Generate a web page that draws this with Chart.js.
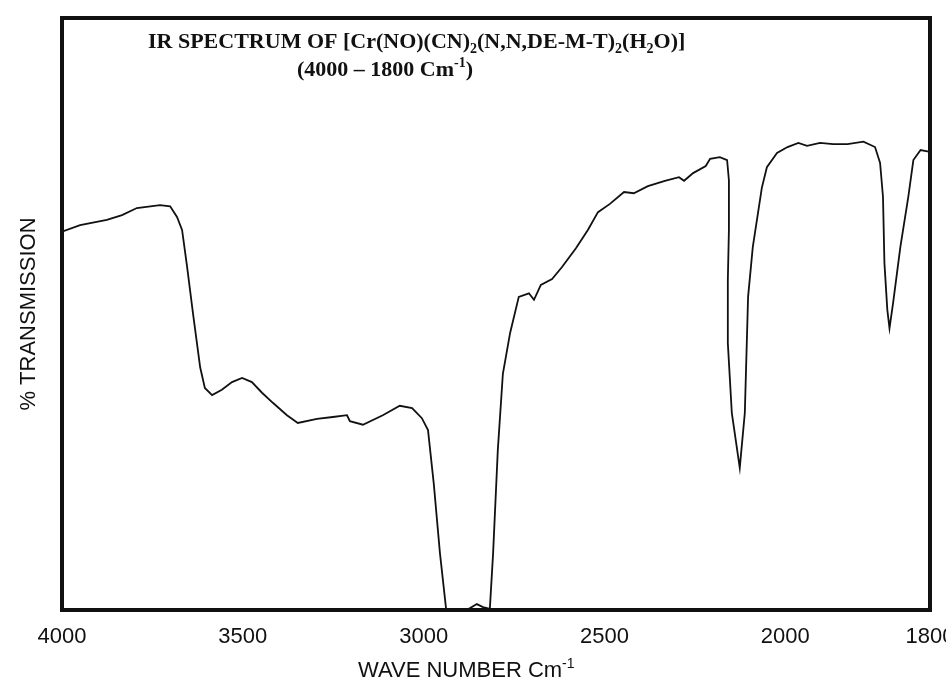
<!DOCTYPE html>
<html>
<head>
<meta charset="utf-8">
<script src="https://cdn.jsdelivr.net/npm/chart.js@4.4.1/dist/chart.umd.min.js"></script>
<style>
  html, body { margin: 0; padding: 0; background: #fff; }
  #wrap { width: 946px; height: 691px; position: relative; }
</style>
</head>
<body>
<div id="wrap"><canvas id="irChart"></canvas></div>
<script>
// wave numbers (cm-1), high to low
const waveNumbers = [
  4000, 3950, 3876, 3834, 3793, 3729, 3701, 3682, 3668, 3654, 3638, 3618, 3605,
  3585, 3558, 3530, 3502, 3475, 3447, 3417, 3378, 3348, 3295, 3251, 3212, 3204,
  3168, 3113, 3066, 3032, 3005, 2988, 2972, 2955, 2938, 2875, 2853, 2836, 2817,
  2808, 2795, 2781, 2761, 2737, 2709, 2695, 2676, 2645, 2618, 2579, 2546, 2518,
  2485, 2446, 2419, 2380, 2333, 2294, 2280, 2255, 2220, 2208, 2181, 2161, 2156,
  2156, 2159, 2159, 2148, 2126, 2112, 2103, 2090, 2065, 2051, 2023, 1997, 1982,
  1970, 1952, 1934, 1914, 1892, 1876, 1869, 1865, 1863, 1859, 1856, 1851, 1841,
  1830, 1823, 1813, 1800
];
// % transmission at each wave number
const transmission = [
  63.9, 65.0, 65.9, 66.7, 67.9, 68.4, 68.2, 66.4, 64.2, 57.9, 50.2, 41.0, 37.5,
  36.3, 37.2, 38.5, 39.2, 38.5, 36.7, 35.0, 32.9, 31.6, 32.3, 32.6, 32.9, 31.9,
  31.3, 32.9, 34.5, 34.1, 32.4, 30.4, 21.3, 9.6, 0.2, 0.2, 1.0, 0.5, 0.2,
  9.6, 27.0, 39.9, 46.8, 52.9, 53.5, 52.4, 54.9, 55.9, 57.9, 61.1, 64.2, 67.2,
  68.6, 70.6, 70.4, 71.6, 72.5, 73.1, 72.5, 73.8, 75.0, 76.2, 76.5, 76.0, 72.6,
  64.2, 55.7, 45.1, 33.3, 24.0, 33.3, 52.9, 61.3, 71.3, 74.8, 77.2, 78.2, 78.9,
  78.4, 78.9, 78.7, 78.7, 79.1, 78.2, 75.5, 69.8, 58.6, 50.7, 47.6, 51.9, 61.3,
  69.8, 76.0, 77.7, 77.4
];
const xTicks = [4000, 3500, 3000, 2500, 2000, 1800];

// IR chart paper: scale doubles below 2000 cm-1
const BREAK = 2000, HI = 4000, LO = 1800, EXPAND = 2;
const SPAN = (HI - BREAK) + (BREAK - LO) * EXPAND;

class IrScale extends Chart.LinearScale {
  getPixelForValue(v) {
    const u = v >= BREAK ? (HI - v) : (HI - BREAK) + (BREAK - v) * EXPAND;
    return this.left + (u / SPAN) * this.width;
  }
  getValueForPixel(px) {
    const u = (px - this.left) / this.width * SPAN;
    return u <= HI - BREAK ? HI - u : BREAK - (u - (HI - BREAK)) / EXPAND;
  }
}
IrScale.id = 'irwave';
IrScale.defaults = Chart.LinearScale.defaults;
Chart.register(IrScale);

function drawRich(ctx, parts, x, y, size, family, weight) {
  // parts: [text, 'n' | 'sub' | 'sup']
  let cx = x;
  parts.forEach(([t, kind]) => {
    const s = kind === 'n' ? size : Math.round(size * 0.65);
    const dy = kind === 'sub' ? size * 0.22 : kind === 'sup' ? -size * 0.4 : 0;
    ctx.font = weight + ' ' + s + 'px ' + family;
    ctx.fillText(t, cx, y + dy);
    cx += ctx.measureText(t).width;
  });
}

const paperPlugin = {
  id: 'paper',
  afterDraw(chart) {
    const ctx = chart.ctx;
    const a = chart.chartArea;
    ctx.save();
    ctx.strokeStyle = '#111';
    ctx.lineWidth = 4;
    ctx.strokeRect(a.left, a.top, a.right - a.left, a.bottom - a.top);

    ctx.fillStyle = '#111';
    ctx.textBaseline = 'alphabetic';
    ctx.textAlign = 'left';
    const serif = '"Liberation Serif", "Times New Roman", serif';
    drawRich(ctx, [
      ['IR SPECTRUM OF [Cr(NO)(CN)', 'n'], ['2', 'sub'],
      ['(N,N,DE-M-T)', 'n'], ['2', 'sub'], ['(H', 'n'], ['2', 'sub'], ['O)]', 'n']
    ], 148, 48, 22, serif, 'bold');
    drawRich(ctx, [['(4000 \u2013 1800 Cm', 'n'], ['-1', 'sup'], [')', 'n']],
      297, 76, 22, serif, 'bold');

    const sans = '"Liberation Sans", Arial, sans-serif';
    drawRich(ctx, [['WAVE NUMBER Cm', 'n'], ['-1', 'sup']], 358, 677, 22, sans, 'normal');
    ctx.restore();
  }
};

new Chart(document.getElementById('irChart'), {
  type: 'line',
  data: {
    datasets: [{
      label: '% transmission',
      data: waveNumbers.map((w, i) => ({ x: w, y: transmission[i] })),
      borderColor: '#111',
      borderWidth: 1.8,
      pointRadius: 0,
      tension: 0,
      fill: false
    }]
  },
  options: {
    responsive: true,
    maintainAspectRatio: false,
    animation: false,
    layout: { padding: { top: 18, right: 16, left: 0, bottom: 0 } },
    plugins: { legend: { display: false }, tooltip: { enabled: false } },
    scales: {
      x: {
        type: 'irwave',
        min: LO,
        max: HI,
        grid: { display: false },
        border: { display: false },
        afterBuildTicks: s => { s.ticks = xTicks.map(v => ({ value: v })); },
        afterFit: s => { s.height = 81; s.paddingLeft = 0; s.paddingRight = 0; },
        ticks: {
          autoSkip: false,
          maxRotation: 0,
          padding: 6,
          color: '#111',
          font: { family: '"Liberation Sans", Arial, sans-serif', size: 22 },
          callback: v => String(v)
        }
      },
      y: {
        min: 0,
        max: 100,
        grid: { display: false },
        border: { display: false },
        ticks: { display: false },
        afterFit: s => { s.width = 62; },
        title: {
          display: true,
          text: '% TRANSMISSION',
          color: '#111',
          padding: { top: 16, bottom: 0 },
          font: { family: '"Liberation Sans", Arial, sans-serif', size: 22 }
        }
      }
    }
  },
  plugins: [paperPlugin]
});
</script>
</body>
</html>
